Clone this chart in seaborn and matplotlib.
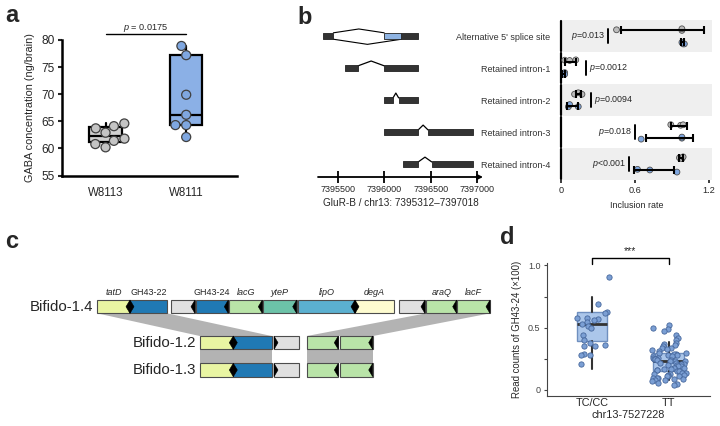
import numpy as np
import pandas as pd
import matplotlib
matplotlib.use("Agg")
import matplotlib.pyplot as plt
from matplotlib.patches import Polygon, Rectangle
import seaborn as sns

sns.set_theme(style="ticks")
plt.rcParams["font.family"] = ["Liberation Sans", "DejaVu Sans"]
plt.rcParams["mathtext.fontset"] = "custom"
plt.rcParams["mathtext.it"] = "Liberation Sans:italic"
plt.rcParams["mathtext.rm"] = "Liberation Sans"

W, H = 720, 426

# -----------------------------
# Data
# -----------------------------
# a: GABA concentration
gaba_groups = ["W8113", "W8111"]
gaba_w8113 = [64.6, 64.1, 63.7, 62.9, 61.8, 61.4, 60.8, 60.2]
gaba_w8111 = [78.9, 77.2, 69.9, 66.2, 64.3, 64.3, 62.1]
gaba_p = "0.0175"

# b: GluR-B splicing events
splice_events = ["Alternative 5' splice site", "Retained intron-1", "Retained intron-2",
                 "Retained intron-3", "Retained intron-4"]
gene_exons = [
    [(7395340, 7395455), (7396185, 7396365)],
    [(7395580, 7395720), (7396000, 7396365)],
    [(7396000, 7396095), (7396155, 7396365)],
    [(7396000, 7396365), (7396470, 7396950)],
    [(7396200, 7396365), (7396510, 7396950)],
]
alt_exon = (7396000, 7396185)
gene_ticks = [7395500, 7396000, 7396500, 7397000]
incl_grey = [[0.45, 0.98, 0.98], [0.03, 0.07, 0.12], [0.11, 0.14, 0.17],
             [0.89, 0.97, 0.99], [0.96, 0.98, 0.99]]
incl_blue = [[0.98, 0.99, 1.00], [0.02, 0.03, 0.03], [0.06, 0.07, 0.14],
             [0.65, 0.98, 0.98], [0.62, 0.72, 0.94]]
err_grey = [(0.49, 1.16), (0.03, 0.12), (0.12, 0.16), (0.89, 1.02), (0.96, 0.99)]
err_blue = [(0.97, 1.00), (0.01, 0.03), (0.05, 0.14), (0.69, 1.07), (0.59, 0.92)]
p_text = ["=0.013", "=0.0012", "=0.0094", "=0.018", "<0.001"]
p_x = [0.38, 0.20, 0.24, 0.60, 0.55]
p_side = ["left", "right", "right", "left", "left"]

# c: gene clusters
cl14_start = [97.3, 130, 171, 196, 229.3, 263.3, 298.3, 355, 399.3, 426, 457.3]
cl14_end = [130, 167.3, 195, 228.3, 262.3, 296.7, 355, 394, 425, 456.7, 490]
cl14_names = ["tatD", "GH43-22", "", "GH43-24", "lacG", "yteP", "lipO", "degA", "", "araQ", "lacF"]
cl14_colors = ["#e9f5a3", "#2079b4", "#e0e0e0", "#2079b4", "#b9e4a8", "#6cc2a8",
               "#5bb0d0", "#fefcd0", "#e0e0e0", "#b9e4a8", "#b9e4a8"]
cl14_heads = ["R", "L", "R", "R", "R", "R", "R", "L", "R", "R", "R"]
cl12_start = [200, 233.3, 274, 306.7, 340]
cl12_end = [233.3, 271.7, 299.3, 338.3, 372.7]
cl12_colors = ["#e9f5a3", "#2079b4", "#e0e0e0", "#b9e4a8", "#b9e4a8"]
cl12_heads = ["R", "L", "L", "R", "R"]

# d: GH43-24 read counts
geno_groups = ["TC/CC", "TT"]
reads_tccc = [0.91, 0.69, 0.63, 0.62, 0.58, 0.58, 0.57, 0.56, 0.55, 0.53, 0.51, 0.50,
              0.44, 0.40, 0.38, 0.36, 0.35, 0.35, 0.29, 0.28, 0.28, 0.21]
reads_tt = [0.52, 0.50, 0.49, 0.47, 0.44, 0.42, 0.40, 0.38, 0.37, 0.36, 0.35, 0.34,
            0.34, 0.33, 0.32, 0.31, 0.30, 0.30, 0.29, 0.29, 0.28, 0.28, 0.27, 0.27,
            0.26, 0.26, 0.25, 0.25, 0.25, 0.24, 0.24, 0.23, 0.23, 0.23, 0.22, 0.22,
            0.21, 0.21, 0.20, 0.20, 0.19, 0.19, 0.18, 0.18, 0.18, 0.17, 0.17, 0.16,
            0.16, 0.15, 0.15, 0.14, 0.14, 0.13, 0.13, 0.12, 0.12, 0.11, 0.11, 0.11,
            0.10, 0.10, 0.10, 0.09, 0.09, 0.08, 0.08, 0.07, 0.06, 0.05, 0.04]
# box stats: whislo, q1, med, q3, whishi
box_tccc = [0.17, 0.39, 0.53, 0.63, 0.75]
box_tt = [0.08, 0.155, 0.235, 0.30, 0.385]


def rect(x0, y0, x1, y1):
    return [x0 / W, 1 - y1 / H, (x1 - x0) / W, (y1 - y0) / H]


def tukey(vals):
    v = np.sort(vals)
    n = len(v)
    lo, hi = v[: n // 2], v[(n + 1) // 2:]
    return dict(med=np.median(v), q1=np.median(lo), q3=np.median(hi),
                whislo=v.min(), whishi=v.max(), fliers=[])


np.random.seed(3)
fig = plt.figure(figsize=(W / 100, H / 100), dpi=100)

# -----------------------------
# a
# -----------------------------
axa = fig.add_axes(rect(62, 40, 237, 175.5))
bp = axa.bxp([tukey(gaba_w8113), tukey(gaba_w8111)], positions=[0, 1], widths=0.4,
             patch_artist=True, showcaps=False, manage_ticks=False,
             boxprops=dict(lw=1.6, edgecolor="black"),
             medianprops=dict(color="black", lw=1.6),
             whiskerprops=dict(color="black", lw=1.6))
for patch, fc in zip(bp["boxes"], ["#d0d0d0", "#8bb0e6"]):
    patch.set_facecolor(fc)
df_a = pd.DataFrame({"group": ["W8113"] * len(gaba_w8113) + ["W8111"] * len(gaba_w8111),
                     "gaba": gaba_w8113 + gaba_w8111})
sns.swarmplot(data=df_a, x="group", y="gaba", hue="group", order=gaba_groups,
              palette={"W8113": "#c4c4c4", "W8111": "#7fa7e0"}, size=6.5,
              edgecolor="#404040", linewidth=0.9, legend=False, ax=axa, zorder=3)
axa.set_xlim(-0.54, 1.63)
axa.set_ylim(55, 80)
axa.set_yticks(range(55, 81, 5))
axa.tick_params(axis="y", labelsize=8.6, length=3, width=1.5, pad=2)
axa.tick_params(axis="x", labelsize=8.3, length=0, pad=8)
axa.set_xlabel("")
axa.set_ylabel("GABA concentration (ng/brain)", fontsize=7.8, labelpad=5)
for s in ["top", "right"]:
    axa.spines[s].set_visible(False)
for s in ["left", "bottom"]:
    axa.spines[s].set_linewidth(1.8)
    axa.spines[s].set_color("black")
axa.plot([0, 1], [81.1, 81.1], color="black", lw=1, clip_on=False)
axa.text(0.5, 82.3, r"$p$ = " + gaba_p, ha="center", va="center", fontsize=6.6, clip_on=False)

# -----------------------------
# b (gene structures)
# -----------------------------
axg = fig.add_axes(rect(318, 20, 483, 177))
axg.set_xlim(7395290, 7397060)
axg.set_ylim(4.4, -0.5)
eh = 0.2
for i, exons in enumerate(gene_exons):
    axg.broken_barh([(s, e - s) for s, e in exons], (i - eh / 2, eh),
                    facecolors="#333333", edgecolor="#222222", lw=0.6, zorder=3)
    if i == 0:
        axg.broken_barh([(alt_exon[0], alt_exon[1] - alt_exon[0])], (i - eh / 2, eh),
                        facecolors="#8fb4e3", edgecolor="#222222", lw=0.6, zorder=3)
        a = exons[0][1]
        axg.plot([a, (a + alt_exon[0]) / 2, alt_exon[0]], [i - eh / 2, i - 0.22, i - eh / 2],
                 color="black", lw=0.8)
        axg.plot([a, (a + alt_exon[1]) / 2, alt_exon[1]], [i + eh / 2, i + 0.26, i + eh / 2],
                 color="black", lw=0.8)
    else:
        a, b = exons[0][1], exons[1][0]
        axg.plot([a, (a + b) / 2, b], [i - eh / 2 + 0.03, i - 0.22, i - eh / 2 + 0.03],
                 color="black", lw=0.9)
axg.set_yticks([])
for s in ["top", "right", "left", "bottom"]:
    axg.spines[s].set_visible(False)
axg.annotate("", xy=(1.0, 0), xytext=(0, 0), xycoords="axes fraction",
             arrowprops=dict(arrowstyle="-|>", lw=1.3, color="black", mutation_scale=7,
                             shrinkA=0, shrinkB=0))
axg.set_xticks(gene_ticks)
axg.set_xticklabels([str(t) for t in gene_ticks])
axg.tick_params(axis="x", direction="inout", length=9, width=1.3, labelsize=6.5, pad=1,
                color="black")
axg.set_xlabel("GluR-B / chr13: 7395312\u20137397018", fontsize=7.2, labelpad=3)

# -----------------------------
# b (inclusion rates)
# -----------------------------
axb = fig.add_axes(rect(561, 20, 711.5, 180))
rows = []
for ev, g, bl in zip(splice_events, incl_grey, incl_blue):
    rows += [(ev, "grey", v) for v in g] + [(ev, "blue", v) for v in bl]
df_b = pd.DataFrame(rows, columns=["event", "group", "rate"])
for i in range(0, len(splice_events), 2):
    axb.axhspan(i - 0.5, i + 0.5, color="#efefef", zorder=0, lw=0)
sns.stripplot(data=df_b, x="rate", y="event", hue="group", order=splice_events,
              hue_order=["grey", "blue"], palette={"grey": "#bdbdbd", "blue": "#7fa7e0"},
              dodge=True, jitter=0.12, size=4.2, edgecolor="#505050", linewidth=0.6,
              orient="h", legend=False, ax=axb, zorder=3)
for i in range(len(splice_events)):
    for (lo, hi), off in [(err_grey[i], -0.2), (err_blue[i], 0.2)]:
        axb.errorbar((lo + hi) / 2, i + off, xerr=(hi - lo) / 2, fmt="none", ecolor="black",
                     elinewidth=1.5, capsize=3, capthick=1.5, zorder=4)
    axb.plot([0, 0], [i - 0.46, i + 0.46], color="black", lw=1.6, clip_on=False)
    axb.plot([p_x[i], p_x[i]], [i - 0.22, i + 0.22], color="black", lw=1.4)
    if p_side[i] == "left":
        axb.text(p_x[i] - 0.02, i, r"$p$" + p_text[i], ha="right", va="center", fontsize=6.4)
    else:
        axb.text(p_x[i] + 0.03, i, r"$p$" + p_text[i], ha="left", va="center", fontsize=6.4)
axb.set_xlim(0, 1.22)
axb.set_ylim(4.5, -0.5)
axb.set_xticks([0, 0.6, 1.2])
axb.set_xticklabels(["0", "0.6", "1.2"])
axb.tick_params(axis="x", labelsize=6.6, length=2, pad=2)
axb.tick_params(axis="y", labelsize=6.5, length=0, pad=8, labelcolor="#333333")
axb.set_ylabel("")
axb.set_xlabel("Inclusion rate", fontsize=6.4, labelpad=5)
for s in ["top", "right", "left", "bottom"]:
    axb.spines[s].set_visible(False)

# -----------------------------
# c
# -----------------------------
axc = fig.add_axes(rect(0, 220, 500, 426))
axc.set_xlim(0, 500)
axc.set_ylim(426, 220)
axc.axis("off")
bh = 13.3
tracks = [("Bifido-1.4", 306.7, cl14_start, cl14_end, cl14_colors, cl14_heads),
          ("Bifido-1.2", 342.7, cl12_start, cl12_end, cl12_colors, cl12_heads),
          ("Bifido-1.3", 370.0, cl12_start, cl12_end, cl12_colors, cl12_heads)]
y14, y12, y13 = tracks[0][1], tracks[1][1], tracks[2][1]
# homology shading
for (a0, a1), (b0, b1) in [((cl14_start[0], cl14_end[1]), (cl12_start[0], cl12_end[1])),
                           ((cl14_start[9], cl14_end[10]), (cl12_start[3], cl12_end[4]))]:
    axc.add_patch(Polygon([(a0, y14 + bh / 2), (a1, y14 + bh / 2), (b1, y12 - bh / 2),
                           (b0, y12 - bh / 2)], closed=True, fc="#b3b3b3", ec="none", zorder=1))
for b0, b1 in [(cl12_start[0], cl12_end[1]), (cl12_start[3], cl12_end[4])]:
    axc.add_patch(Rectangle((b0, y12 + bh / 2), b1 - b0, (y13 - bh / 2) - (y12 + bh / 2),
                            fc="#b3b3b3", ec="none", zorder=1))
for name, yc, starts, ends, colors, heads in tracks:
    for s, e, c, h in zip(starts, ends, colors, heads):
        axc.add_patch(Rectangle((s, yc - bh / 2), e - s, bh, fc=c, ec="#4d4d4d", lw=0.8, zorder=2))
        if h == "R":
            tri = [(e, yc - bh / 2), (e, yc + bh / 2), (e - 4, yc)]
        else:
            tri = [(s, yc - bh / 2), (s, yc + bh / 2), (s + 4, yc)]
        axc.add_patch(Polygon(tri, closed=True, fc="black", ec="black", lw=0.4, zorder=3))
    axc.text(starts[0] - 4, yc, name, ha="right", va="center", fontsize=10.8)
for s, e, n in zip(cl14_start, cl14_end, cl14_names):
    if n:
        style = "normal" if n.startswith("GH") else "italic"
        axc.text((s + e) / 2, y14 - bh / 2 - 3, n, ha="center", va="bottom",
                 fontsize=6.5, style=style)

# -----------------------------
# d
# -----------------------------
axd = fig.add_axes(rect(546.7, 263, 710, 395.7))
stats_d = [dict(whislo=b[0], q1=b[1], med=b[2], q3=b[3], whishi=b[4], fliers=[])
           for b in [box_tccc, box_tt]]
bpd = axd.bxp(stats_d, positions=[0, 1], widths=0.4, patch_artist=True, showcaps=False,
              manage_ticks=False,
              boxprops=dict(lw=1.0, edgecolor="#6f8fbf", facecolor="#abc6ea"),
              medianprops=dict(color="#333333", lw=2),
              whiskerprops=dict(color="#333333", lw=1.5))
df_d = pd.DataFrame({"geno": ["TC/CC"] * len(reads_tccc) + ["TT"] * len(reads_tt),
                     "reads": reads_tccc + reads_tt})
sns.stripplot(data=df_d, x="geno", y="reads", order=geno_groups, color="#7b9fd4",
              jitter=0.24, size=3.8, edgecolor="#46679c", linewidth=0.6, ax=axd, zorder=3)
axd.set_xlim(-0.59, 1.54)
axd.set_ylim(-0.046, 1.02)
axd.set_yticks([0, 0.25, 0.5, 0.75, 1.0])
axd.set_yticklabels(["0", "", "0.5", "", "1.0"])
axd.tick_params(axis="y", labelsize=6.5, length=2.5, width=0.8, pad=2, labelcolor="#444444",
                color="#444444")
axd.tick_params(axis="x", labelsize=7.8, length=0, pad=2)
axd.set_ylabel("Read counts of GH43-24 (\u00d7100)", fontsize=6.9, labelpad=4)
axd.set_xlabel("chr13-7527228", fontsize=7.8, labelpad=1)
for s in ["top", "right"]:
    axd.spines[s].set_visible(False)
for s in ["left", "bottom"]:
    axd.spines[s].set_linewidth(0.8)
    axd.spines[s].set_color("#444444")
axd.plot([0, 0, 1, 1], [1.01, 1.062, 1.062, 1.01], color="black", lw=1, clip_on=False)
axd.text(0.5, 1.075, "***", ha="center", va="bottom", fontsize=7.5, clip_on=False)

# panel letters
for lbl, x, y in [("a", 5, 22), ("b", 297, 24), ("c", 5, 248), ("d", 500, 244)]:
    fig.text(x / W, 1 - y / H, lbl, fontsize=17, fontweight="bold", va="baseline")

fig.savefig("out.png", dpi=100)
